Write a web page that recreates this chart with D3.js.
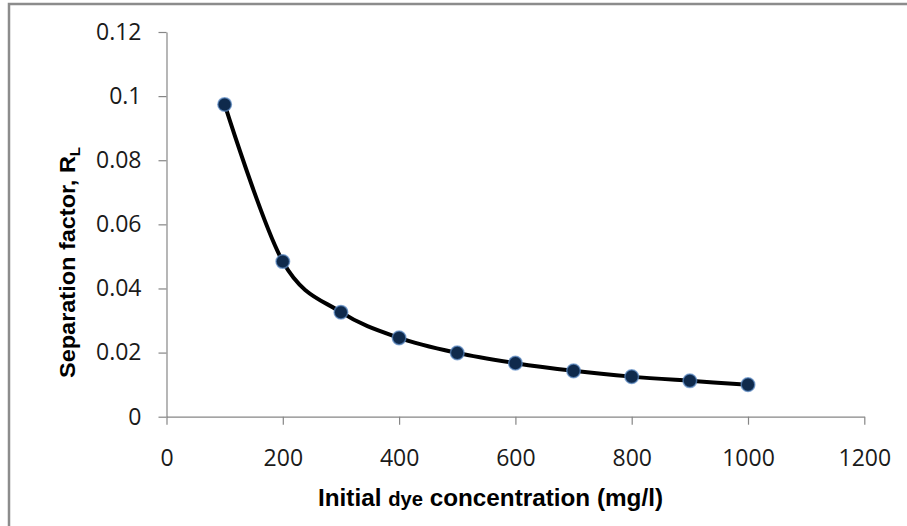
<!DOCTYPE html>
<html>
<head>
<meta charset="utf-8">
<script src="https://cdn.jsdelivr.net/npm/d3@7"></script>
<style>
  body { margin: 0; background: #fff; }
  svg { display: block; }
</style>
</head>
<body>
<div id="chart"></div>
<script>
// Initial dye concentration (mg/l) and separation factor RL
var concentrations = [100, 200, 300, 400, 500, 600, 700, 800, 900, 1000];
var separationFactor = [0.0974, 0.0484, 0.0326, 0.0246, 0.0199, 0.0167, 0.0143, 0.0125, 0.0112, 0.0100];
var xTicks = [0, 200, 400, 600, 800, 1000, 1200];
var yTicks = [0, 0.02, 0.04, 0.06, 0.08, 0.1, 0.12];

var width = 907, height = 526;
var plotLeft = 166.5, plotRight = 864.3, plotTop = 32, plotBottom = 416.7;

var points = concentrations.map(function(c, i) { return { x: c, y: separationFactor[i] }; });

var svg = d3.select("#chart").append("svg")
    .attr("width", width)
    .attr("height", height);

// chart frame (only top and left edges are inside the picture)
svg.append("rect")
    .attr("x", 9).attr("y", 4)
    .attr("width", 920).attr("height", 540)
    .attr("fill", "none")
    .attr("stroke", "#8c8c8c")
    .attr("stroke-width", 2.5);

var x = d3.scaleLinear().domain([0, 1200]).range([plotLeft, plotRight]);
var y = d3.scaleLinear().domain([0, 0.12]).range([plotBottom, plotTop]);

var tickFont = "'Open Sans', 'DejaVu Sans', sans-serif";

var xAxis = svg.append("g")
    .attr("transform", "translate(0," + plotBottom + ")")
    .call(d3.axisBottom(x).tickValues(xTicks).tickSize(8).tickSizeOuter(0).tickPadding(25)
        .tickFormat(d3.format("d")));

var yAxis = svg.append("g")
    .attr("transform", "translate(" + plotLeft + ",0)")
    .call(d3.axisLeft(y).tickValues(yTicks).tickSize(8).tickSizeOuter(0).tickPadding(17)
        .tickFormat(function(d) { return d === 0 ? "0" : String(+d.toFixed(2)); }));

[xAxis, yAxis].forEach(function(g) {
    g.select(".domain").attr("stroke", "#868686").attr("stroke-width", 1.2);
    g.selectAll(".tick line").attr("stroke", "#868686").attr("stroke-width", 1.2);
    g.selectAll(".tick text")
        .attr("fill", "#1a1a1a")
        .style("font-family", tickFont)
        .style("font-size", "23px");
});

// smoothed line like the spreadsheet one
var line = d3.line()
    .x(function(d) { return x(d.x); })
    .y(function(d) { return y(d.y); })
    .curve(d3.curveCatmullRom.alpha(0));

svg.append("path")
    .datum(points)
    .attr("fill", "none")
    .attr("stroke", "#000")
    .attr("stroke-width", 4)
    .attr("d", line);

svg.selectAll("circle.dot")
    .data(points)
    .enter().append("circle")
    .attr("class", "dot")
    .attr("cx", function(d) { return x(d.x); })
    .attr("cy", function(d) { return y(d.y); })
    .attr("r", 6.8)
    .attr("fill", "#0f2a4c")
    .attr("stroke", "#5b8ac4")
    .attr("stroke-opacity", 0.7)
    .attr("stroke-width", 1.5);

var titleFont = "'Liberation Sans Narrow', 'Arial Narrow', 'Liberation Sans', Arial, sans-serif";

// x axis title
var xt = svg.append("text")
    .attr("x", 318).attr("y", 506)
    .attr("textLength", 345)
    .attr("lengthAdjust", "spacingAndGlyphs")
    .style("font-family", titleFont)
    .style("font-weight", "bold")
    .style("font-size", "24px")
    .attr("fill", "#000");
xt.append("tspan").text("Initial ");
xt.append("tspan").style("font-size", "20px").text("dye");
xt.append("tspan").text(" concentration (mg/l)");

// y axis title
var yt = svg.append("text")
    .attr("transform", "translate(75,378) rotate(-90)")
    .attr("textLength", 231)
    .attr("lengthAdjust", "spacingAndGlyphs")
    .style("font-family", titleFont)
    .style("font-weight", "bold")
    .style("font-size", "22px")
    .attr("fill", "#000");
yt.append("tspan").text("Separation factor, R");
yt.append("tspan").attr("dy", 5).style("font-size", "14px").text("L");
</script>
</body>
</html>
